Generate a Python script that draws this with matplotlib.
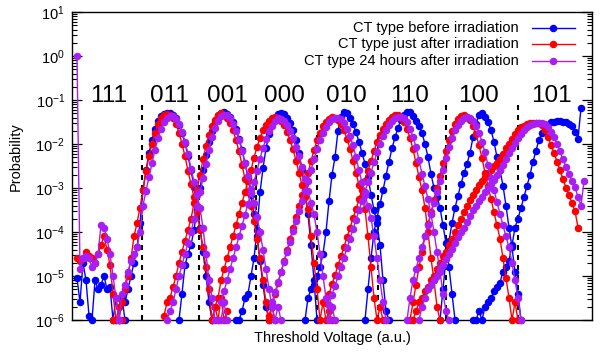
import numpy as np
import matplotlib
matplotlib.use("Agg")
import matplotlib.pyplot as plt
from matplotlib.ticker import (LogLocator, NullFormatter, LogFormatterMathtext,
                               NullLocator, FixedLocator)

plt.rcParams['font.family'] = ['Liberation Sans', 'DejaVu Sans']
plt.rcParams['mathtext.fontset'] = 'custom'
plt.rcParams['mathtext.rm'] = 'Liberation Sans'
plt.rcParams['mathtext.it'] = 'Liberation Sans:italic'
plt.rcParams['mathtext.bf'] = 'Liberation Sans:bold'

# ---------------- data ----------------
states = ["111", "011", "001", "000", "010", "110", "100", "101"]
state_label_x = [10.67, 30.83, 50.0, 69.0, 89.67, 111.0, 134.0, 158.0]
boundary_x = [21.67, 40.67, 59.67, 80.0, 100.33, 123.0, 147.0]
y_ticks = [1e-6, 1e-5, 1e-4, 1e-3, 1e-2, 1e-1, 1e0, 1e1]

series_names = ["CT type before irradiation",
                "CT type just after irradiation",
                "CT type 24 hours after irradiation"]

# start bin of each state's histogram and log10(probability) per bin
blue_start = [0, 16, 34, 53, 76, 96, 121, 132]
blue_logp = [
    [-5.05, -5.6, -4.7, -5.1, -5.9, -6.0, -5.1, -5.3, -5.2, -5.0, -5.3, -5.25, -6.0, -5.5, -6.0, -5.5, -6.0],
    [-5.6, -5.3, -5.0, -4.7, -4.35, -3.8, -3.05, -2.6, -2.2, -1.9, -1.66, -1.48, -1.37, -1.31, -1.29, -1.29,
     -1.33, -1.42, -1.56, -1.75, -1.98, -2.27, -2.6, -2.97, -3.4, -3.9, -4.45, -5.0, -5.6, -6.0],
    [-6.0, -5.4, -4.75, -4.5, -4.3, -3.95, -3.5, -3.0, -2.6, -2.25, -1.95, -1.7, -1.5, -1.37, -1.3, -1.28,
     -1.31, -1.38, -1.5, -1.67, -1.88, -2.13, -2.43, -2.77, -3.15, -3.6, -4.1, -4.65, -5.2, -5.7, -6.0],
    [-6.0, -6.0, -5.8, -5.5, -5.4, -5.0, -4.6, -3.95, -3.1, -2.55, -2.1, -1.78, -1.55, -1.4, -1.31, -1.29,
     -1.32, -1.4, -1.52, -1.68, -1.9, -2.2, -2.6, -3.05, -3.6, -4.3, -5.1, -6.0],
    [-6.0, -5.5, -5.3, -5.2, -5.0, -4.8, -4.5, -4.0, -3.3, -2.7, -2.3, -1.7, -1.38, -1.27, -1.29, -1.4,
     -1.55, -1.73, -1.95, -2.2, -2.45, -2.75, -3.15, -3.5, -3.8, -4.3, -5.1, -5.8, -6.0],
    [-6.0, -5.3, -4.6, -4.0, -3.68, -3.37, -3.05, -2.72, -2.4, -2.1, -1.85, -1.63, -1.45, -1.33, -1.27, -1.28,
     -1.36, -1.48, -1.6, -1.75, -2.0, -2.3, -2.68, -3.0, -3.2, -3.45, -3.85, -4.25, -4.8, -5.4, -6.0],
    [-6.0, -5.3, -4.6, -4.2, -3.8, -3.45, -3.18, -2.9, -2.67, -2.45, -2.2, -1.85, -1.55, -1.33, -1.3, -1.38,
     -1.5, -1.68, -1.95, -2.3, -2.6, -2.95, -3.4, -3.9, -4.35, -4.9, -5.4, -6.0],
    [-6.0, -6.0, -5.8, -6.0, -5.7, -5.6, -5.5, -5.35, -5.25, -5.15, -4.9, -4.8, -4.65, -4.3, -3.9, -3.7,
     -3.45, -3.2, -2.95, -2.7, -2.4, -2.15, -1.9, -1.75, -1.65, -1.57, -1.51, -1.49, -1.48, -1.48, -1.49,
     -1.51, -1.55, -1.6, -1.72, -1.88, -1.18],
]

red_start = [0, 12, 29, 45, 64, 83, 111, 112]
red_logp = [
    [-4.6, -4.65, -4.6, -4.45, -4.55, -4.6, -4.7, -4.5, -4.3, -4.1, -4.4, -4.75, -5.4, -6.0, -6.0, -6.0],
    [-6.0, -6.0, -5.7, -5.6, -5.3, -5.0, -4.6, -4.1, -3.8, -3.45, -3.05, -2.61, -2.28, -1.99, -1.74, -1.55,
     -1.42, -1.34, -1.31, -1.34, -1.42, -1.55, -1.74, -1.99, -2.28, -2.61, -2.91, -3.21, -3.55, -3.95,
     -4.35, -4.8, -5.3, -6.0, -5.7, -6.0, -5.5, -6.0, -5.8],
    [-5.9, -5.6, -5.5, -5.25, -5.0, -4.7, -4.45, -4.2, -3.95, -3.7, -3.35, -3.05, -2.7, -2.35, -2.05, -1.8,
     -1.6, -1.45, -1.34, -1.30, -1.33, -1.40, -1.52, -1.69, -1.91, -2.17, -2.47, -2.8, -3.1, -3.4, -3.75,
     -4.15, -4.6, -5.1, -5.6, -6.0, -5.7, -6.0],
    [-6.0, -5.7, -5.5, -5.1, -4.85, -4.6, -4.35, -4.1, -3.84, -3.59, -3.34, -3.09, -2.84, -2.59, -2.31,
     -2.07, -1.86, -1.69, -1.56, -1.47, -1.41, -1.39, -1.41, -1.47, -1.57, -1.72, -1.9, -2.12, -2.38, -2.66,
     -2.93, -3.2, -3.47, -4.1, -4.7, -5.3, -6.0, -5.6, -6.0, -5.8, -6.0],
    [-5.9, -5.67, -5.42, -5.17, -4.92, -4.67, -4.42, -4.17, -3.92, -3.67, -3.42, -3.17, -2.92, -2.67, -2.39,
     -2.14, -1.92, -1.74, -1.6, -1.49, -1.43, -1.39, -1.40, -1.45, -1.55, -1.69, -1.88, -2.11, -2.38, -2.66,
     -2.93, -3.2, -3.48, -4.1, -4.8, -5.5, -6.0, -5.7, -6.0],
    [-5.62, -5.41, -5.19, -4.98, -4.76, -4.55, -4.34, -4.12, -3.91, -3.69, -3.48, -3.26, -3.05, -2.84, -2.62,
     -2.39, -2.16, -1.96, -1.79, -1.65, -1.54, -1.45, -1.39, -1.35, -1.35, -1.40, -1.50, -1.65, -1.86, -2.12,
     -2.43, -2.75, -3.05, -3.45, -4.0, -4.6, -5.1, -5.7, -6.0],
    [-6.0, -5.6, -5.2, -4.8, -4.45, -4.1, -3.82, -3.55, -3.28, -3.0, -2.73, -2.44, -2.15, -1.91, -1.71, -1.55,
     -1.44, -1.37, -1.35, -1.38, -1.46, -1.59, -1.78, -2.03, -2.32, -2.65, -2.95, -3.25, -3.55, -3.85, -4.15,
     -4.6, -5.05, -5.5, -6.0, -5.6, -6.0],
    [-6.0, -5.8, -5.6, -5.5, -5.35, -5.25, -5.1, -5.0, -4.85, -4.7, -4.55, -4.45, -4.3, -4.15, -4.0, -3.85,
     -3.7, -3.55, -3.4, -3.27, -3.16, -3.05, -2.94, -2.83, -2.75, -2.67, -2.59, -2.51, -2.43, -2.33, -2.22,
     -2.1, -1.99, -1.89, -1.78, -1.68, -1.62, -1.58, -1.55, -1.53, -1.52, -1.52, -1.53, -1.56, -1.68, -1.85,
     -2.03, -2.2, -2.4, -2.6, -2.8, -3.0, -3.17, -3.35, -3.52, -3.9],
]

purple_start = [0, 14, 30, 48, 65, 84, 110, 114]
purple_logp = [
    [0.0, -4.85, -4.6, -4.55, -4.6, -4.8, -4.7, -4.5, -3.85, -3.9, -4.15, -4.5, -5.0, -5.5, -6.0],
    [-6.0, -5.4, -5.2, -4.9, -4.65, -4.5, -4.35, -4.0, -3.4, -3.06, -2.76, -2.44, -2.13, -1.87, -1.66, -1.51,
     -1.41, -1.36, -1.37, -1.44, -1.55, -1.72, -1.95, -2.23, -2.56, -2.86, -3.16, -3.46, -3.9, -4.5, -5.1,
     -5.5, -6.0, -6.0, -6.0, -5.6, -6.0],
    [-6.0, -5.8, -5.6, -5.3, -5.0, -4.75, -4.5, -4.25, -4.0, -3.7, -3.4, -3.1, -2.78, -2.45, -2.13, -1.85,
     -1.63, -1.47, -1.37, -1.33, -1.35, -1.42, -1.54, -1.70, -1.90, -2.15, -2.43, -2.73, -3.03, -3.33, -3.65,
     -4.0, -4.4, -4.85, -5.3, -5.7, -6.0, -5.7, -6.0],
    [-5.6, -5.35, -5.1, -4.85, -4.6, -4.35, -4.1, -3.86, -3.61, -3.36, -3.11, -2.86, -2.61, -2.33, -2.09,
     -1.88, -1.71, -1.58, -1.47, -1.41, -1.43, -1.48, -1.57, -1.70, -1.86, -2.06, -2.28, -2.53, -2.79, -3.06,
     -3.33, -3.6, -4.0, -4.5, -5.0, -5.5, -6.0, -5.7, -6.0],
    [-5.6, -5.37, -5.14, -4.91, -4.68, -4.45, -4.22, -3.98, -3.75, -3.52, -3.29, -3.06, -2.83, -2.6, -2.34,
     -2.11, -1.91, -1.75, -1.62, -1.51, -1.44, -1.41, -1.40, -1.44, -1.52, -1.65, -1.82, -2.03, -2.3, -2.6,
     -2.87, -3.15, -3.42, -3.69, -4.1, -4.6, -5.1, -5.6, -6.0],
    [-5.65, -5.44, -5.22, -5.01, -4.79, -4.58, -4.37, -4.15, -3.94, -3.72, -3.51, -3.29, -3.08, -2.87, -2.65,
     -2.42, -2.19, -1.99, -1.82, -1.68, -1.57, -1.48, -1.42, -1.38, -1.38, -1.42, -1.51, -1.65, -1.84, -2.07,
     -2.36, -2.68, -2.96, -3.25, -3.6, -4.0, -4.45, -4.9, -5.4, -5.8, -6.0],
    [-6.0, -5.5, -5.09, -4.84, -4.59, -4.34, -4.09, -3.84, -3.59, -3.34, -3.09, -2.84, -2.59, -2.31, -2.07,
     -1.86, -1.69, -1.56, -1.47, -1.41, -1.39, -1.41, -1.48, -1.59, -1.75, -1.95, -2.19, -2.48, -2.77, -3.04,
     -3.32, -3.59, -3.85, -4.1, -4.35, -4.7, -5.1, -5.5, -6.0],
    [-6.0, -5.7, -5.5, -5.3, -5.2, -5.1, -5.0, -4.85, -4.75, -4.62, -4.5, -4.38, -4.25, -4.12, -4.0, -3.9,
     -3.78, -3.63, -3.5, -3.4, -3.3, -3.2, -3.1, -3.01, -2.92, -2.82, -2.71, -2.6, -2.47, -2.34, -2.21, -2.1,
     -1.98, -1.87, -1.77, -1.69, -1.62, -1.57, -1.54, -1.52, -1.52, -1.52, -1.55, -1.62, -1.72, -1.85, -2.0,
     -2.17, -2.35, -2.52, -2.68, -2.83, -2.98, -3.2, -3.4, -2.85],
]

colors = ["#0000ff", "#ff0000", "#a81ef5"]

# ---------------- figure ----------------
fig = plt.figure(figsize=(6.0, 3.55), dpi=100)
ax = fig.add_axes([72 / 600, 1 - 320 / 355, 520 / 600, 308 / 355])
ax.set_yscale('log')
ax.set_xlim(-1.667, 171.667)
ax.set_ylim(1e-6, 1e1)

MS = 4.4
all_series = [(blue_start, blue_logp), (red_start, red_logp), (purple_start, purple_logp)]
for (starts, segs), col in zip(all_series, colors):
    for s, vals in zip(starts, segs):
        xs = s + np.arange(len(vals))
        ys = 10.0 ** np.array(vals)
        ax.plot(xs, ys, '-', color=col, lw=1.0, marker='o', ms=MS,
                mec=col, mfc=col, clip_on=False, zorder=3)

# state boundaries
for bx in boundary_x:
    ax.plot([bx, bx], [1e-6, 1e-1], color='black', lw=1.5,
            linestyle=(0, (2.4, 2.4)), zorder=2)

for lx, st in zip(state_label_x, states):
    ax.text(lx, 10 ** -1.045, st, ha='center', va='baseline', fontsize=17.5)

# axes styling
ax.xaxis.set_major_locator(NullLocator())
ax.xaxis.set_minor_locator(NullLocator())
ax.yaxis.set_major_locator(FixedLocator(y_ticks))
ax.yaxis.set_minor_locator(LogLocator(base=10, subs=np.arange(2, 10), numticks=200))
ax.yaxis.set_minor_formatter(NullFormatter())
ax.yaxis.set_major_formatter(LogFormatterMathtext())
ax.tick_params(axis='y', which='major', direction='in', length=7, width=0.9,
               left=True, right=True, labelsize=10.5, pad=5)
ax.tick_params(axis='y', which='minor', direction='in', length=3.5, width=0.8,
               left=True, right=True)
for sp in ax.spines.values():
    sp.set_linewidth(1.0)

ax.set_ylabel("Probability", fontsize=10.5)
ax.yaxis.set_label_coords(-0.094, 0.53)
ax.set_xlabel("Threshold Voltage (a.u.)", fontsize=10.5)
ax.xaxis.set_label_coords(0.5, -0.036)

# legend (text right aligned, sample to the right)
leg_y = [0.948, 0.896, 0.841]
for name, col, yy in zip(series_names, colors, leg_y):
    ax.text(0.8596, yy, name, transform=ax.transAxes, ha='right', va='center', fontsize=10.5)
    ax.plot([0.8846, 0.9673], [yy, yy], transform=ax.transAxes, color=col, lw=1.0, clip_on=False)
    ax.plot([0.925], [yy], transform=ax.transAxes, color=col, marker='o', ms=MS, clip_on=False)

fig.savefig("out.png", dpi=100)
